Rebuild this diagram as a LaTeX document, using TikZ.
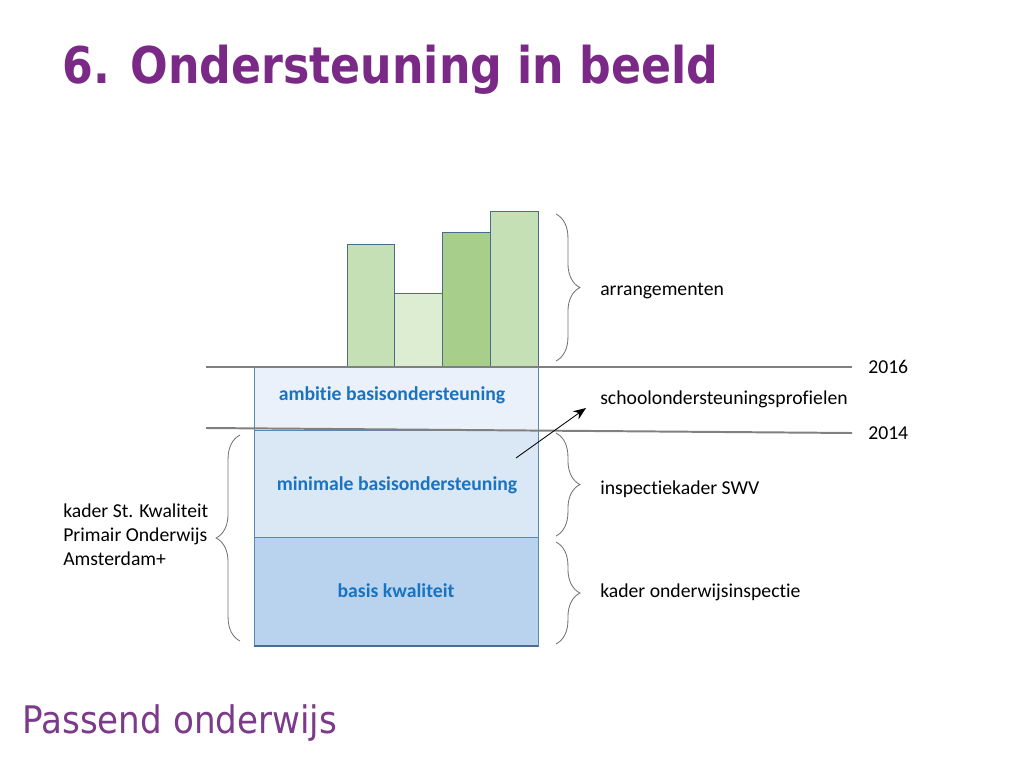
\documentclass[tikz,border=0pt]{standalone}
\usepackage{fontspec}
\setmainfont{Carlito}[Ligatures=NoCommon]
\newfontfamily\headfont[FakeStretch=0.875]{DejaVu Sans}
\newfontfamily\voetfont[FakeStretch=0.90]{DejaVu Sans}
\usepackage{tikz}
\usetikzlibrary{arrows.meta,positioning,calc,decorations.pathreplacing}
\definecolor{paars}{HTML}{7A2A86}
\definecolor{paarslicht}{HTML}{7B3A8A}
\definecolor{lblblauw}{HTML}{1A73C0}
\definecolor{vakA}{HTML}{EAF1FA}
\definecolor{vakB}{HTML}{DAE7F5}
\definecolor{vakC}{HTML}{B9D3EE}
\definecolor{rand}{HTML}{5B87B5}
\definecolor{balkA}{HTML}{C5E0B4}
\definecolor{balkB}{HTML}{DDEDD2}
\definecolor{balkC}{HTML}{A7CF8B}
\definecolor{lijn}{HTML}{808080}

\begin{document}
\begin{tikzpicture}[x=0.025cm, y=-0.025cm,
    txt/.style={font=\fontsize{14}{17}\selectfont, anchor=base west, inner sep=0pt},
    laag/.style={font=\fontsize{14}{17}\selectfont\bfseries, text=lblblauw,
                 anchor=base, inner sep=0pt},
    vak/.style={draw=rand, line width=0.7pt},
    balk/.style={draw=rand!80!black, line width=0.7pt},
    jaar/.style={draw=lijn, line width=1.4pt},
    accolade/.style={draw=lijn!90!black, line width=0.6pt, decorate,
                     decoration={brace, amplitude=17pt, aspect=0.5}}]
\useasboundingbox (0,0) rectangle (1016,762);

\node[font=\headfont\fontsize{36}{40}\selectfont\bfseries, text=paars,
      anchor=base west, inner sep=0pt] (titel) at (62,83) {6. Ondersteuning in beeld};

% lagen
\draw[vak, fill=vakA] (254,367) rectangle (538,430);
\draw[vak, fill=vakB] (254,430) rectangle (538,537);
\draw[vak, fill=vakC] (254,537) rectangle (538,646);
\draw[draw=rand!80!black, line width=1.4pt] (254,646) -- (538,646);

% arrangementen
\foreach \i/\t/\c in {0/244/balkA, 1/293/balkB, 2/232/balkC, 3/211/balkA} {
    \draw[balk, fill=\c] (347+\i*47.75, 367) rectangle (394.75+\i*47.75, \t);
}

\draw[jaar] (206,367) -- (852,367);
\draw[jaar] (206,428) -- (852,433);
\node[txt] (j16) at (868,373) {2016};
\node[txt] (j14) at (868,439) {2014};

\node[laag] (amb) at (392,400) {ambitie basisondersteuning};
\node[laag] (min) at (397,490) {minimale basisondersteuning};
\node[laag] (bas) at (396,597) {basis kwaliteit};

\draw[accolade] (556,214) -- (556,361);
\draw[accolade] (556,433) -- (556,536);
\draw[accolade] (556,542) -- (556,644);
\draw[accolade] (240,641) -- (240,435);

\node[txt] (arr) at (600,295) {arrangementen};
\node[txt] (sop) at (600,404) {schoolondersteuningsprofielen};
\node[txt] (insp) at (600,494) {inspectiekader SWV};
\node[txt] (kader) at (600,597) {kader onderwijsinspectie};
\node[txt, anchor=west, align=left] (stk) at (63,535)
    {kader St. Kwaliteit\\Primair Onderwijs\\Amsterdam+};

\coordinate (pijlvan) at (516,458);
\coordinate (pijlnaar) at (586,408);
\draw[-{Stealth[length=9pt,width=7pt]}, line width=0.6pt] (pijlvan) -- (pijlnaar);

\node[font=\voetfont\fontsize{27}{30}\selectfont, text=paarslicht,
      anchor=base west, inner sep=0pt] (voet) at (22,733) {Passend onderwijs};
\end{tikzpicture}
\end{document}
